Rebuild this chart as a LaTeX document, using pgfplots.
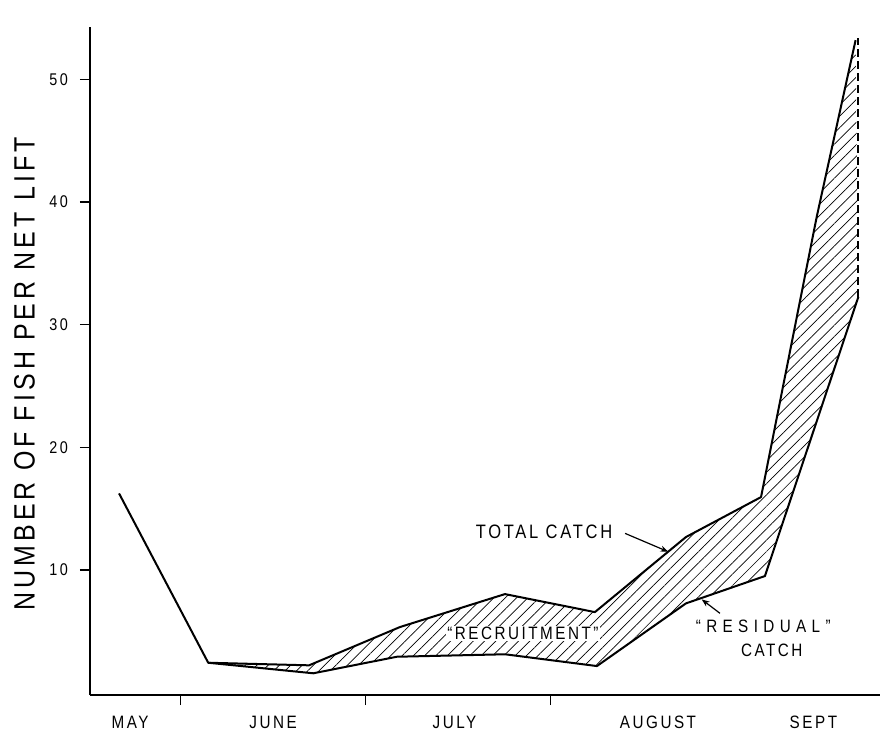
\documentclass[border=0pt]{standalone}
\usepackage{pgfplots}
\pgfplotsset{compat=1.18}
\usepgfplotslibrary{fillbetween}
\usetikzlibrary{patterns.meta,arrows.meta}
\usepackage{fontspec}
\setmainfont{Liberation Sans}
\newfontfamily\lettering{Liberation Sans}[FakeStretch=0.85,LetterSpace=14]
\newfontfamily\widelettering{Liberation Sans}[FakeStretch=0.85,LetterSpace=30]

\begin{document}
\begin{tikzpicture}
\path (-90bp,-46bp) rectangle (793bp,695bp);
\begin{axis}[
  at={(0,0)}, anchor=south west,
  scale only axis, width=790bp, height=668.3bp,
  xmin=0.51, xmax=4.78, ymin=-0.2, ymax=54.3,
  axis x line=bottom, axis y line=left,
  axis line style={-, line width=1.8bp},
  xtick={1,2,3}, xticklabels={},
  ytick={10,20,30,40,50},
  tick align=outside,
  major tick length=10bp,
  tick style={line width=1.4bp, black},
  /pgf/number format/assume math mode=true,
  yticklabel style={font=\lettering\fontsize{17}{17}\selectfont, anchor=east, inner sep=0pt, xshift=-12bp},
  ylabel={NUMBER OF FISH PER NET LIFT},
  ylabel style={at={(axis description cs:-0.0829,0.4803)}, anchor=center, font=\lettering\fontsize{29.5}{29.5}\selectfont},
  clip=false,
]
\addplot[name path=upper, line width=2bp, black, line join=round] coordinates {(0.667,16.24) (1.149,2.43) (1.694,2.22) (2.185,5.34) (2.753,8.03) (3.239,6.56) (3.731,12.68) (4.137,15.94) (4.438,38.8) (4.648,53.2)};
\addplot[name path=lower, line width=2bp, black, line join=round] coordinates {(1.149,2.43) (1.717,1.57) (2.169,2.92) (2.753,3.12) (3.25,2.16) (3.731,7.27) (4.158,9.5) (4.663,32.27)};
\addplot[pattern={Lines[angle=45,distance=8bp,line width=0.7bp]}, draw=none] fill between[of=upper and lower, soft clip={domain=1.149:4.7}];
\addplot[line width=2bp, black, dash pattern=on 8bp off 4bp] coordinates {(4.663,32.27) (4.663,53.4)};

\node[font=\lettering\fontsize{19.5}{19.5}\selectfont] at (axis cs:2.964,13.1) {TOTAL CATCH};
\draw[-{Stealth[length=8bp]}, line width=1.2bp] (axis cs:3.402,12.98) -- (axis cs:3.636,11.48);
\node[fill=white, inner sep=1bp, font=\lettering\fontsize{18}{18}\selectfont] at (axis cs:2.85,4.83) {“RECRUITMENT”};
\node[font=\widelettering\fontsize{18}{18}\selectfont] at (axis cs:4.149,5.37) {“RESIDUAL”};
\node[font=\lettering\fontsize{18}{18}\selectfont] at (axis cs:4.195,3.47) {CATCH};
\draw[-{Stealth[length=8bp]}, line width=1.2bp] (axis cs:3.915,6.46) -- (axis cs:3.816,7.6);

\node[anchor=base, font=\lettering\fontsize{18}{18}\selectfont] at (axis cs:0.727,-2.9) {MAY};
\node[anchor=base, font=\lettering\fontsize{18}{18}\selectfont] at (axis cs:1.5,-2.9) {JUNE};
\node[anchor=base, font=\lettering\fontsize{18}{18}\selectfont] at (axis cs:2.48,-2.9) {JULY};
\node[anchor=base, font=\lettering\fontsize{18}{18}\selectfont] at (axis cs:3.58,-2.9) {AUGUST};
\node[anchor=base, font=\lettering\fontsize{18}{18}\selectfont] at (axis cs:4.42,-2.9) {SEPT};
\end{axis}
\end{tikzpicture}
\end{document}
